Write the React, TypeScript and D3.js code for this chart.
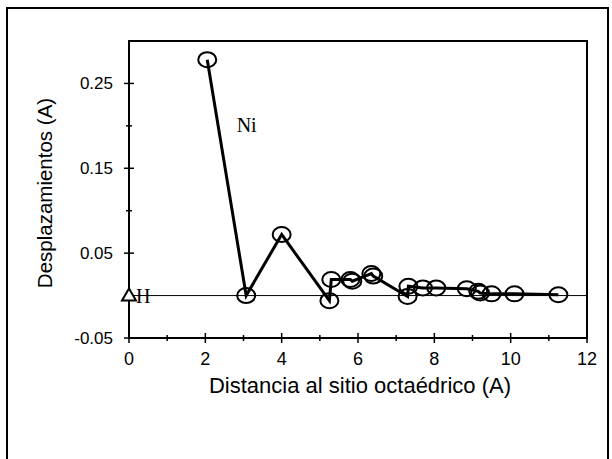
import React, { useEffect, useRef } from 'react'
import { select, scaleLinear, line, range } from 'd3'

// Ni displacements vs distance to the octahedral site
const distNi = [2.05, 3.07, 4.0, 5.25, 5.3, 5.8, 5.85, 6.35, 6.4, 7.3, 7.32, 7.7, 8.05, 8.85, 9.15, 9.2, 9.5, 10.1, 11.25]
const despNi = [0.278, 0.0, 0.072, -0.006, 0.019, 0.019, 0.017, 0.026, 0.023, -0.001, 0.011, 0.009, 0.009, 0.008, 0.005, 0.003, 0.002, 0.002, 0.001]
// order in which the line visits the points
const lineOrder = [0, 1, 2, 3, 4, 5, 6, 7, 8, 9, 10, 11, 12, 13, 14, 15, 16, 17, 18]

const distH = [0]
const despH = [0]

const xMajor = [0, 2, 4, 6, 8, 10, 12]
const xMinor = [1, 3, 5, 7, 9, 11]
const yMajor = [-0.05, 0.05, 0.15, 0.25]
const yMinor = [0, 0.1, 0.2]
const yLabels = ['-0.05', '0.05', '0.15', '0.25']

const App = () => {
  const svgRef = useRef<SVGSVGElement>(null)

  const width = 612
  const height = 459
  const plot = { left: 129, right: 587, top: 41, bottom: 338 }

  useEffect(() => {
    const svg = select(svgRef.current)
    svg.selectAll('*').remove()

    const x = scaleLinear().domain([0, 12]).range([plot.left, plot.right])
    const y = scaleLinear().domain([-0.05, 0.3]).range([plot.bottom, plot.top])

    // outer frame
    svg.append('rect')
      .attr('x', 7).attr('y', 8).attr('width', 601).attr('height', 470)
      .attr('fill', 'none').attr('stroke', '#000').attr('stroke-width', 2)

    // plot box
    svg.append('rect')
      .attr('x', plot.left).attr('y', plot.top)
      .attr('width', plot.right - plot.left).attr('height', plot.bottom - plot.top)
      .attr('fill', 'none').attr('stroke', '#000').attr('stroke-width', 2)

    // zero line
    svg.append('line')
      .attr('x1', x(0)).attr('x2', x(12)).attr('y1', y(0)).attr('y2', y(0))
      .attr('stroke', '#000').attr('stroke-width', 1)

    // x ticks (crossing the axis)
    const tx = svg.append('g')
    tx.selectAll('.xmaj').data(xMajor).enter().append('line')
      .attr('x1', d => x(d)).attr('x2', d => x(d))
      .attr('y1', plot.bottom - 5).attr('y2', plot.bottom + 5)
      .attr('stroke', '#000').attr('stroke-width', 1.5)
    tx.selectAll('.xmin').data(xMinor).enter().append('line')
      .attr('x1', d => x(d)).attr('x2', d => x(d))
      .attr('y1', plot.bottom - 3).attr('y2', plot.bottom + 3)
      .attr('stroke', '#000').attr('stroke-width', 1.5)
    tx.selectAll('text').data(xMajor).enter().append('text')
      .attr('x', d => x(d)).attr('y', 365)
      .attr('text-anchor', 'middle')
      .attr('font-family', 'Liberation Sans, Arial, sans-serif')
      .attr('font-size', 18)
      .text(d => String(d))

    // y ticks
    const ty = svg.append('g')
    ty.selectAll('.ymaj').data(yMajor).enter().append('line')
      .attr('x1', plot.left - 5).attr('x2', plot.left + 5)
      .attr('y1', d => y(d)).attr('y2', d => y(d))
      .attr('stroke', '#000').attr('stroke-width', 1.5)
    ty.selectAll('.ymin').data(yMinor).enter().append('line')
      .attr('x1', plot.left - 3).attr('x2', plot.left + 3)
      .attr('y1', d => y(d)).attr('y2', d => y(d))
      .attr('stroke', '#000').attr('stroke-width', 1.5)
    ty.selectAll('text').data(yMajor).enter().append('text')
      .attr('x', 113).attr('y', d => y(d) + 6)
      .attr('text-anchor', 'end')
      .attr('font-family', 'Liberation Sans, Arial, sans-serif')
      .attr('font-size', 17)
      .text((d, i) => yLabels[i])

    // axis titles
    svg.append('text')
      .attr('x', 360).attr('y', 393)
      .attr('text-anchor', 'middle')
      .attr('font-family', 'Liberation Sans, Arial, sans-serif')
      .attr('font-size', 22)
      .text('Distancia al sitio octaédrico (A)')

    svg.append('text')
      .attr('transform', 'translate(52,193) rotate(-90)')
      .attr('text-anchor', 'middle')
      .attr('font-family', 'Liberation Sans, Arial, sans-serif')
      .attr('font-size', 20.5)
      .text('Desplazamientos (A)')

    // Ni series
    const pts = lineOrder.map(i => [distNi[i], despNi[i]] as [number, number])
    const path = line<[number, number]>().x(d => x(d[0])).y(d => y(d[1]))
    svg.append('path')
      .attr('d', path(pts))
      .attr('fill', 'none').attr('stroke', '#000').attr('stroke-width', 3)

    svg.selectAll('.ni').data(range(distNi.length)).enter().append('ellipse')
      .attr('cx', i => x(distNi[i])).attr('cy', i => y(despNi[i]))
      .attr('rx', 9).attr('ry', 7.5)
      .attr('fill', 'none').attr('stroke', '#000').attr('stroke-width', 2)

    // H marker
    svg.selectAll('.h').data(range(distH.length)).enter().append('path')
      .attr('transform', i => `translate(${x(distH[i])},${y(despH[i])})`)
      .attr('d', 'M0,-7L7,5L-7,5Z')
      .attr('fill', '#fff').attr('stroke', '#000').attr('stroke-width', 2)

    svg.append('text')
      .attr('x', x(0) + 7).attr('y', y(0) + 7)
      .attr('font-family', 'Liberation Serif, Times New Roman, serif')
      .attr('font-size', 20)
      .text('H')

    svg.append('text')
      .attr('x', x(2.82)).attr('y', y(0.193))
      .attr('font-family', 'Liberation Serif, Times New Roman, serif')
      .attr('font-size', 20)
      .text('Ni')
  }, [])

  return (
    <svg
      ref={svgRef}
      width={width}
      height={height}
      style={{ position: 'absolute', left: 0, top: 0, background: '#fff' }}
    />
  )
}

export default App
